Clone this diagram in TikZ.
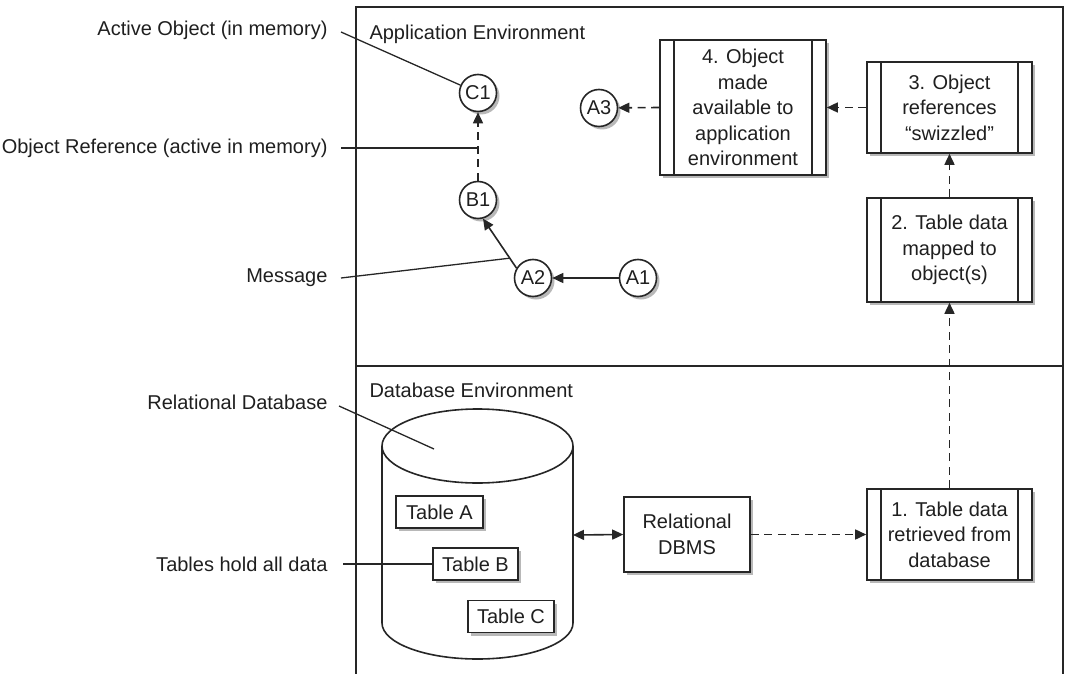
\documentclass[tikz,border=0pt]{standalone}
\usepackage{fontspec}
\setmainfont{Liberation Sans}
\usetikzlibrary{arrows.meta,shadows,calc}
\begin{document}
\begin{tikzpicture}[x=1pt,y=-1pt,
  every node/.style={font=\fontsize{20}{25.5}\selectfont, text=black!88},
  ln/.style={line width=1.6pt, draw=black!85},
  tip/.style={-{Triangle[length=11pt,width=10pt]}},
  dtip/.style={{Triangle[length=11pt,width=10pt]}-{Triangle[length=11pt,width=10pt]}},
  dsh/.style={dash pattern=on 8pt off 5.5pt},
  shd/.style={drop shadow={shadow xshift=3pt, shadow yshift=-3pt, fill=black!28, opacity=1}},
  obj/.style={circle, ln, fill=white, minimum size=37pt, inner sep=0pt, shd},
  proc/.style={rectangle, ln, fill=white, minimum width=165pt, align=center, inner sep=0pt, shd},
  tbl/.style={rectangle, ln, fill=white, minimum height=32pt, inner sep=0pt, shd},
  lead/.style={line width=1.3pt, draw=black!85},
  lbl/.style={anchor=east}
]
\useasboundingbox (0,0) rectangle (1065,674);

% frame
\draw[line width=1.8pt, draw=black!85] (356,674) -- (356,7) -- (1063,7) -- (1063,674);
\draw[line width=1.8pt, draw=black!85] (356,366) -- (1063,366);
\node[anchor=west] (appenv) at (366,34) {Application Environment};
\node[anchor=west] (dbenv) at (366,390) {Database Environment};

% objects
\node[obj] (C1) at (478,93) {C1};
\node[obj] (B1) at (478,200) {B1};
\node[obj] (A2) at (533,278) {A2};
\node[obj] (A1) at (638,278) {A1};
\node[obj] (A3) at (599,108) {A3};

% process boxes
\node[proc, minimum width=166pt, minimum height=135pt] (P4) at (743,107.5) {4. Object\\made\\available to\\application\\environment};
\node[proc, minimum height=91pt] (P3) at (949.5,107.5) {3. Object\\references\\“swizzled”};
\node[proc, minimum height=104pt] (P2) at (949.5,250) {2. Table data\\mapped to\\object(s)};
\node[proc, minimum height=91pt] (P1) at (949.5,534.5) {1. Table data\\retrieved from\\database};
\foreach \n in {P4,P3,P2,P1}{
  \draw[ln] ([xshift=15pt]\n.north west) -- ([xshift=15pt]\n.south west);
  \draw[ln] ([xshift=-15pt]\n.north east) -- ([xshift=-15pt]\n.south east);
}
\node[rectangle, ln, fill=white, minimum width=126pt, minimum height=75pt, align=center, inner sep=0pt, shd] (DBMS) at (687,534.5) {Relational\\DBMS};

% cylinder
\draw[ln, fill=white] (382,446) -- (382,623) arc[start angle=180, end angle=360, x radius=95.5pt, y radius=36pt] -- (573,446);
\draw[ln] (477.5,446) ellipse[x radius=95.5pt, y radius=37pt];
\coordinate (cylE) at (573,535);
\coordinate (cylIn) at (434,449);

\node[tbl, minimum width=87pt] (TA) at (439.5,512) {Table A};
\node[tbl, minimum width=85pt] (TB) at (475.5,564) {Table B};
\node[tbl, minimum width=86pt] (TC) at (511,616.5) {Table C};

% connectors
\draw[ln, tip] (A1) -- (A2);
\draw[ln, tip] (A2.149) -- (B1.285);
\draw[ln, tip, dsh] (B1) -- (C1);
\draw[ln, tip, dsh] (P4.west) -- (A3);
\draw[ln, tip, dsh] (P3.west) -- (P4.east);
\draw[ln, tip, dsh] (P2.north) -- (P3.south);
\draw[ln, tip, dsh] (P1.north) -- (P2.south);
\draw[ln, tip, dsh] (DBMS.east) -- (P1.west);
\draw[ln, dtip] (cylE) -- (DBMS.west);

% left labels
\node[lbl] (lAO) at (331,30) {Active Object (in memory)};
\node[lbl] (lOR) at (331,148) {Object Reference (active in memory)};
\node[lbl] (lMS) at (331,278) {Message};
\node[lbl] (lRD) at (331,402) {Relational Database};
\node[lbl] (lTH) at (331,564) {Tables hold all data};

\coordinate (orRef) at (C1 |- lOR);
\coordinate (msgRef) at ($(A2.149)!0.2!(B1.285)$);
\draw[lead] ([xshift=10pt,yshift=-2pt]lAO.east) -- (C1);
\draw[lead] ([xshift=10pt]lOR.east) -- (orRef);
\draw[lead] ([xshift=10pt]lMS.east) -- (msgRef);
\draw[lead] ([xshift=8pt,yshift=-4pt]lRD.east) -- (cylIn);
\draw[lead] ([xshift=12pt]lTH.east) -- (TB.west);
\end{tikzpicture}
\end{document}
